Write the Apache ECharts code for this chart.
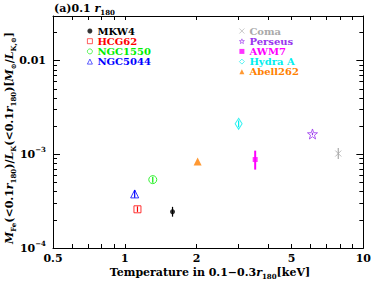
<!DOCTYPE html>
<html><head><meta charset="utf-8">
<script src="https://cdn.jsdelivr.net/npm/echarts@6/dist/echarts.min.js"></script>
<style>html,body{margin:0;padding:0;background:#fff}#c{width:374px;height:285px}</style>
</head><body><div id="c"></div>
<script>
const names = ['MKW4','HCG62','NGC1550','NGC5044','Coma','Perseus','AWM7','Hydra A','Abell262'];
const temperature = [1.585, 1.13, 1.31, 1.10, 7.85, 6.12, 3.52, 3.0, 2.02];
const ratio = [2.44e-4, 2.59e-4, 5.37e-4, 3.78e-4, 1.02e-3, 1.65e-3, 8.8e-4, 2.12e-3, 8.4e-4];
const errLow = [2.16e-4, 2.43e-4, 4.98e-4, 3.45e-4, 0.89e-3, 1.6e-3, 6.87e-4, 1.95e-3, 8.4e-4];
const errHigh = [2.75e-4, 2.78e-4, 5.75e-4, 4.15e-4, 1.17e-3, 1.7e-3, 1.095e-3, 2.3e-3, 8.4e-4];
const colors = ['#000000','#ff0000','#00ee00','#0000ff','#aaaaaa','#9933ee','#ff00ff','#00eeee','#ff7f00'];
const xTicks = [0.5,0.6,0.7,0.8,0.9,1,2,3,4,5,6,7,8,9,10];
const xLabels = [0.5,1,2,5,10];
const yMajor = [1e-4,1e-3,1e-2];
const yMinor = [2e-4,3e-4,4e-4,5e-4,6e-4,7e-4,8e-4,9e-4,2e-3,3e-3,4e-3,5e-3,6e-3,7e-3,8e-3,9e-3,2e-2,3e-2];

const FF = 'DejaVu Serif';
const STAR = 'path://M0,-10L2.35,-3.24L9.51,-3.09L3.8,1.24L5.88,8.09L0,4L-5.88,8.09L-3.8,1.24L-9.51,-3.09L-2.35,-3.24Z';
const symbols = [
  {symbol:'circle', size:5, filled:true},
  {symbol:'rect', size:7, filled:false},
  {symbol:'circle', size:8, filled:false},
  {symbol:'triangle', size:8, filled:false},
  {symbol:'path://M0,0L10,10M10,0L0,10', size:6, filled:false},
  {symbol:STAR, size:10, filled:false},
  {symbol:'rect', size:5, filled:true},
  {symbol:'diamond', size:[7,11], filled:false},
  {symbol:'triangle', size:8, filled:true}
];

const chart = echarts.init(document.getElementById('c'), null, {renderer:'svg'});
const tickBase = {show:true, inside:true, lineStyle:{color:'#000', width:1}};
const scatterSeries = names.map((n,i)=>{
  const s = symbols[i];
  return {
    name:n, type:'scatter', xAxisIndex:0, yAxisIndex:0,
    symbol:s.symbol, symbolSize:s.size, z:3,
    itemStyle: s.filled ? {color:colors[i], borderWidth:0} : {color:'rgba(255,255,255,0)', borderColor:colors[i], borderWidth:1},
    data:[[temperature[i], ratio[i]]]
  };
});
const errSeries = {
  type:'custom', xAxisIndex:0, yAxisIndex:0, z:2,
  data: names.map((n,i)=>[temperature[i], errLow[i], errHigh[i], i]),
  renderItem:(params, api)=>{
    const p1 = api.coord([api.value(0), api.value(1)]);
    const p2 = api.coord([api.value(0), api.value(2)]);
    return {type:'line', shape:{x1:p1[0], y1:p1[1], x2:p2[0], y2:p2[1]},
      style:{stroke:colors[api.value(3)], lineWidth: api.value(3)===6 ? 2 : 1.2}};
  }
};
const legendText = {fontFamily:FF, fontWeight:'bold', fontSize:10, lineHeight:10};
const mkLegend = (left, items) => ({
  orient:'vertical', left:left, top:26, itemWidth:5, itemHeight:5, itemGap:0.2,
  padding:0, selectedMode:false, textStyle:legendText,
  itemStyle:{borderWidth:0.8},
  data: items.map(i=>({name:names[i], textStyle:{color:colors[i]}}))
});
const sub = {fontFamily:FF, fontWeight:'bold', fontSize:7, verticalAlign:'bottom', lineHeight:7};
const rich = {
  i:{fontFamily:FF, fontWeight:'bold', fontStyle:'italic', fontSize:11},
  s:sub
};
chart.setOption({
  animation:false,
  backgroundColor:'#fff',
  grid:{left:53, right:8, top:16, bottom:37},
  legend:[mkLegend(87,[0,1,2,3]), mkLegend(239,[4,5,6,7,8])],
  xAxis:[
    {type:'log', position:'bottom', min:0.5, max:10, logBase:10,
     axisLine:{show:true, lineStyle:{color:'#000', width:1}},
     axisTick:Object.assign({customValues:xTicks, length:4}, tickBase),
     axisLabel:{customValues:xLabels, margin:5, color:'#000', fontFamily:FF, fontWeight:'bold', fontSize:11},
     splitLine:{show:false}},
    {type:'log', position:'top', min:0.5, max:10, logBase:10,
     axisLine:{show:true, lineStyle:{color:'#000', width:1}},
     axisTick:Object.assign({customValues:xTicks, length:4}, tickBase),
     axisLabel:{show:false}, splitLine:{show:false}}
  ],
  yAxis:[
    {type:'log', position:'left', min:1e-4, max:0.03, logBase:10,
     axisLine:{show:true, lineStyle:{color:'#000', width:1}},
     axisTick:Object.assign({customValues:yMajor, length:7}, tickBase),
     axisLabel:{customValues:yMajor, margin:7, color:'#000', fontFamily:FF, fontWeight:'bold', fontSize:11,
       formatter:v=>{const e=Math.round(Math.log10(v)); return e===-2 ? '0.01' : '10{sp|−'+(-e)+'}';},
       rich:{sp:{fontFamily:FF, fontWeight:'bold', fontSize:7, verticalAlign:'top', lineHeight:16}}},
     splitLine:{show:false}},
    {type:'log', position:'left', min:1e-4, max:0.03, logBase:10,
     axisLine:{show:false},
     axisTick:Object.assign({customValues:yMinor, length:4}, tickBase),
     axisLabel:{show:false}, splitLine:{show:false}},
    {type:'log', position:'right', min:1e-4, max:0.03, logBase:10,
     axisLine:{show:true, lineStyle:{color:'#000', width:1}},
     axisTick:Object.assign({customValues:yMajor, length:7}, tickBase),
     axisLabel:{show:false}, splitLine:{show:false}},
    {type:'log', position:'right', min:1e-4, max:0.03, logBase:10,
     axisLine:{show:false},
     axisTick:Object.assign({customValues:yMinor, length:4}, tickBase),
     axisLabel:{show:false}, splitLine:{show:false}}
  ],
  graphic:[
    {type:'text', left:54, top:0, style:{text:'(a)0.1 {i|r}{s|180}', fontFamily:FF, fontWeight:'bold', fontSize:11, fill:'#000', rich:rich, lineHeight:16}},
    {type:'text', x:210, y:272, style:{text:'Temperature in 0.1−0.3{i|r}{s|180}[keV]', fontFamily:FF, fontWeight:'bold', fontSize:11, fill:'#000', align:'center', verticalAlign:'middle', rich:rich, lineHeight:16}},
    {type:'text', x:9, y:138, rotation:Math.PI/2, style:{text:'{i|M}{s|Fe}(<0.1{i|r}{s|180})/{i|L}{s|K}(<0.1{i|r}{s|180})[{i|M}{s|⊙}/{i|L}{s|K,⊙}]', fontFamily:FF, fontWeight:'bold', fontSize:11, fill:'#000', align:'center', verticalAlign:'middle', rich:rich, lineHeight:16}}
  ],
  series: scatterSeries.concat([errSeries])
});
</script></body></html>
